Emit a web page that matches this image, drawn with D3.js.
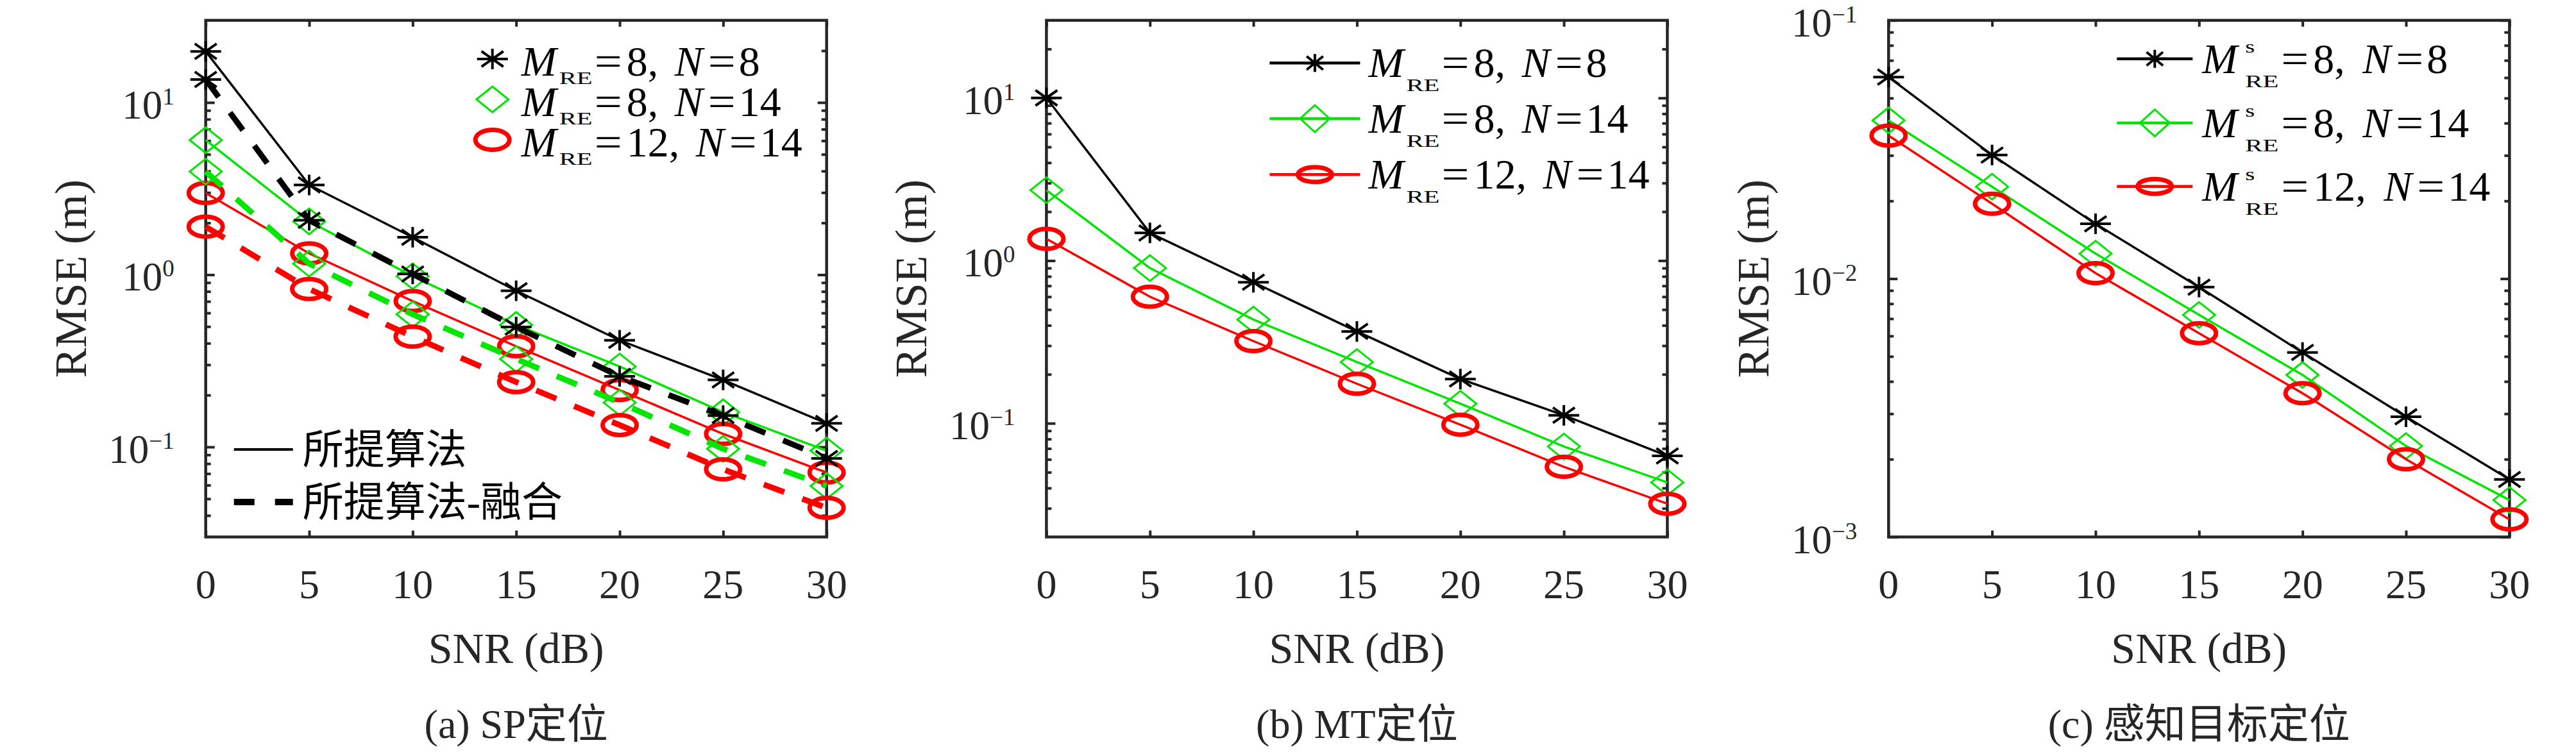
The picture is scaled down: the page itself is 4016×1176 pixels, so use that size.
<!DOCTYPE html>
<html>
<head>
<meta charset="utf-8">
<script src="https://cdn.jsdelivr.net/npm/d3@7"></script>
<style>
  html, body { margin: 0; padding: 0; background: #fff; }
  text { white-space: pre; }
</style>
</head>
<body>
<script>
// ── Data ───────────────────────────────────────────────────────
const snrDb = [0, 5, 10, 15, 20, 25, 30];

// (a) SP positioning: proposed / proposed-fusion
const spM8N8        = [19.8, 3.32, 1.65, 0.807, 0.416, 0.245, 0.137];
const spM8N8Fused   = [13.6, 2.07, 1.01, 0.497, 0.257, 0.152, 0.0857];
const spM8N14       = [6.05, 2.04, 0.98, 0.511, 0.293, 0.159, 0.0952];
const spM8N14Fused  = [3.97, 1.16, 0.589, 0.324, 0.181, 0.0975, 0.0593];
const spM12N14      = [2.98, 1.33, 0.703, 0.384, 0.214, 0.119, 0.071];
const spM12N14Fused = [1.90, 0.826, 0.437, 0.238, 0.134, 0.0741, 0.0443];

// (b) MT positioning
const mtM8N8   = [10, 1.48, 0.736, 0.367, 0.187, 0.112, 0.063];
const mtM8N14  = [2.71, 0.90, 0.434, 0.238, 0.132, 0.072, 0.0433];
const mtM12N14 = [1.36, 0.60, 0.32, 0.175, 0.098, 0.054, 0.032];

// (c) sensing target positioning
const stM8N8   = [0.0603, 0.0301, 0.0163, 0.00927, 0.00518, 0.00292, 0.00167];
const stM8N14  = [0.041, 0.0227, 0.0125, 0.00724, 0.00424, 0.00225, 0.00139];
const stM12N14 = [0.0358, 0.0195, 0.0105, 0.00615, 0.0036, 0.0020, 0.00117];

const xTickValues = [0, 5, 10, 15, 20, 25, 30];
const yDomainSP = [0.03, 30];
const yDomainMT = [0.02, 30];
const yDomainST = [0.001, 0.1];
const yExpSP = [-1, 0, 1];
const yExpMT = [-1, 0, 1];
const yExpST = [-3, -2, -1];

const legendMre = [8, 8, 12];
const legendN   = [8, 14, 14];
const styleLabels = ["所提算法", "所提算法-融合"];
const captions = ["(a) SP定位", "(b) MT定位", "(c) 感知目标定位"];
const xLabel = "SNR (dB)";
const yLabel = "RMSE (m)";

// ── Look ───────────────────────────────────────────────────────
const colors = { black: "#000000", green: "#00e600", red: "#ff0000", axis: "#262626" };
const serif = "'Liberation Serif', 'Times New Roman', serif";
const cjk = "'Liberation Serif', 'Noto Sans CJK SC', sans-serif";

const W = 4016, H = 1176;
const plotTop = 31.7, plotBottom = 837.5, plotW = 968;
const panelLefts = [320.7, 1631.4, 2944.3];

const svg = d3.select("body").append("svg")
  .attr("width", W).attr("height", H)
  .style("background", "#fff");

const markers = ["star", "diamond", "circle"];
const markerColors = [colors.black, colors.green, colors.red];

const panels = [
  {
    domain: yDomainSP, exps: yExpSP, sup: false,
    series: [
      { v: spM8N8, k: 0, dashed: false }, { v: spM8N14, k: 1, dashed: false }, { v: spM12N14, k: 2, dashed: false },
      { v: spM8N8Fused, k: 0, dashed: true }, { v: spM8N14Fused, k: 1, dashed: true }, { v: spM12N14Fused, k: 2, dashed: true },
    ],
  },
  {
    domain: yDomainMT, exps: yExpMT, sup: false,
    series: [{ v: mtM8N8, k: 0 }, { v: mtM8N14, k: 1 }, { v: mtM12N14, k: 2 }],
  },
  {
    domain: yDomainST, exps: yExpST, sup: true,
    series: [{ v: stM8N8, k: 0 }, { v: stM8N14, k: 1 }, { v: stM12N14, k: 2 }],
  },
];

// marker sizes: plot / small legend variant
const mSize = {
  plot:  { sw: 24, sh: 16, dw: 25, dh: 20, crx: 26.5, cry: 15.5 },
  small: { sw: 18, sh: 14, dw: 23, dh: 21, crx: 26.5, cry: 11.5 },
};

function drawMarker(g, type, cx, cy, color, size = mSize.plot) {
  if (type === "star") {
    const a = size.sw * 0.71, b = size.sh * 0.75;
    g.append("path")
      .attr("d", `M${cx - size.sw},${cy}H${cx + size.sw}M${cx},${cy - size.sh}V${cy + size.sh}` +
                 `M${cx - a},${cy - b}L${cx + a},${cy + b}M${cx - a},${cy + b}L${cx + a},${cy - b}`)
      .attr("fill", "none").attr("stroke", color).attr("stroke-width", 4);
  } else if (type === "diamond") {
    g.append("path")
      .attr("d", `M${cx - size.dw},${cy}L${cx},${cy - size.dh}L${cx + size.dw},${cy}L${cx},${cy + size.dh}Z`)
      .attr("fill", "none").attr("stroke", color).attr("stroke-width", 3);
  } else {
    g.append("ellipse")
      .attr("cx", cx).attr("cy", cy).attr("rx", size.crx).attr("ry", size.cry)
      .attr("fill", "none").attr("stroke", color).attr("stroke-width", 7);
  }
}

// one <text> per legend entry; pieces placed like the LaTeX original
function legendText(g, x0, yb, i, opt) {
  const m = String(legendMre[i]);
  const extra = (m.length - 1) * 33;
  const t = g.append("text")
    .style("font-family", serif).style("font-size", "66px").attr("fill", "#000");
  const piece = (x, y, str) => t.append("tspan").attr("x", x).attr("y", y).text(str);

  piece(x0, yb, "M").style("font-style", "italic");
  const sx = opt.sup ? x0 + 67 : x0 + 59;
  if (opt.sup) {
    piece(sx, yb - 32, "s").style("font-size", "28px")
      .attr("textLength", 15).attr("lengthAdjust", "spacingAndGlyphs");
  }
  piece(sx, yb + opt.subDy, "RE").style("font-size", "28px")
    .attr("textLength", 52).attr("lengthAdjust", "spacingAndGlyphs");
  const eq1 = opt.sup ? x0 + 123 : x0 + 114;
  piece(eq1, yb, "=").attr("textLength", 43).attr("lengthAdjust", "spacingAndGlyphs");
  piece(eq1 + 50, yb, m + ",");
  const nx = (opt.sup ? x0 + 250 : x0 + 239) + extra;
  piece(nx, yb, "N").style("font-style", "italic");
  piece(nx + 52, yb, "=").attr("textLength", 43).attr("lengthAdjust", "spacingAndGlyphs");
  piece(nx + 100, yb, String(legendN[i]));
}

panels.forEach((p, pi) => {
  const left = panelLefts[pi];
  const right = left + plotW;
  const g = svg.append("g");

  const x = d3.scaleLinear().domain([0, 30]).range([left, right]);
  const y = d3.scaleLog().domain(p.domain).range([plotBottom, plotTop]);

  const majors = p.exps.map(e => Math.pow(10, e));
  const minors = y.ticks().filter(v => {
    const l = Math.log10(v);
    return Math.abs(l - Math.round(l)) > 1e-6 && v > p.domain[0] * 1.0001 && v < p.domain[1] * 0.9999;
  });

  const styleAxis = sel => {
    sel.select(".domain").remove();
    sel.selectAll("line").attr("stroke", colors.axis).attr("stroke-width", 4);
    sel.selectAll("text").remove();
  };

  // ── Ticks (inward, mirrored) ─────────────────────────────────
  g.append("g").attr("transform", `translate(${left},0)`)
    .call(d3.axisLeft(y).tickValues(majors).tickSize(-14).tickSizeOuter(0)).call(styleAxis);
  g.append("g").attr("transform", `translate(${left},0)`)
    .call(d3.axisLeft(y).tickValues(minors).tickSize(-8).tickSizeOuter(0)).call(styleAxis);
  g.append("g").attr("transform", `translate(${right},0)`)
    .call(d3.axisRight(y).tickValues(majors).tickSize(-14).tickSizeOuter(0)).call(styleAxis);
  g.append("g").attr("transform", `translate(${right},0)`)
    .call(d3.axisRight(y).tickValues(minors).tickSize(-8).tickSizeOuter(0)).call(styleAxis);
  g.append("g").attr("transform", `translate(0,${plotBottom})`)
    .call(d3.axisBottom(x).tickValues(xTickValues).tickSize(-10).tickSizeOuter(0)).call(styleAxis);
  g.append("g").attr("transform", `translate(0,${plotTop})`)
    .call(d3.axisTop(x).tickValues(xTickValues).tickSize(-10).tickSizeOuter(0)).call(styleAxis);

  // box
  g.append("rect")
    .attr("x", left).attr("y", plotTop)
    .attr("width", plotW).attr("height", plotBottom - plotTop)
    .attr("fill", "none").attr("stroke", colors.axis).attr("stroke-width", 4.5);

  // ── Tick labels ──────────────────────────────────────────────
  xTickValues.forEach(v => {
    g.append("text")
      .attr("x", x(v)).attr("y", plotBottom + 95)
      .attr("text-anchor", "middle")
      .style("font-family", serif).style("font-size", "64px")
      .attr("fill", colors.axis).text(v);
  });

  p.exps.forEach(e => {
    const t = g.append("text")
      .attr("x", left - 49).attr("y", y(Math.pow(10, e)) + 25)
      .attr("text-anchor", "end")
      .style("font-family", serif).style("font-size", "63px")
      .attr("fill", colors.axis);
    t.append("tspan").text("10");
    t.append("tspan").attr("dy", -22).style("font-size", "37px")
      .text(e < 0 ? "\u2212" + (-e) : String(e));
  });

  // ── Axis labels and caption ─────────────────────────────────
  g.append("text")
    .attr("x", (left + right) / 2).attr("y", 1034)
    .attr("text-anchor", "middle")
    .style("font-family", serif).style("font-size", "68px")
    .attr("fill", "#262626").text(xLabel);

  g.append("text")
    .attr("transform", `translate(${left - 187},${(plotTop + plotBottom) / 2}) rotate(-90)`)
    .attr("text-anchor", "middle")
    .style("font-family", serif).style("font-size", "70px")
    .attr("fill", "#262626").text(yLabel);

  g.append("text")
    .attr("x", (left + right) / 2).attr("y", 1151)
    .attr("text-anchor", "middle")
    .style("font-family", cjk).style("font-size", "64px")
    .attr("fill", "#262626").text(captions[pi]);

  // ── Series ───────────────────────────────────────────────────
  const line = d3.line().x((d, i) => x(snrDb[i])).y(d => y(d));

  p.series.forEach(s => {
    g.append("path")
      .datum(s.v)
      .attr("d", line)
      .attr("fill", "none")
      .attr("stroke", markerColors[s.k])
      .attr("stroke-width", s.dashed ? 9 : 3.5)
      .attr("stroke-dasharray", s.dashed ? "34,30" : null);
    s.v.forEach((d, i) => drawMarker(g, markers[s.k], x(snrDb[i]), y(d), markerColors[s.k]));
  });

  // ── Legends ──────────────────────────────────────────────────
  if (pi === 0) {
    const rows = [92, 155, 218];
    rows.forEach((ry, i) => {
      drawMarker(g, markers[i], left + 447, ry, markerColors[i]);
      legendText(g, left + 492, ry + 26, i, { sup: false, subDy: 13 });
    });
    // line style legend
    [701, 783].forEach((ly, i) => {
      g.append("line")
        .attr("x1", left + 44).attr("x2", left + 136)
        .attr("y1", ly).attr("y2", ly)
        .attr("stroke", "#000")
        .attr("stroke-width", i ? 10 : 4)
        .attr("stroke-dasharray", i ? "32,32" : null);
      g.append("text")
        .attr("x", left + 151).attr("y", ly)
        .attr("dominant-baseline", "central")
        .style("font-family", cjk).style("font-size", "64px")
        .attr("fill", "#000").text(styleLabels[i]);
    });
  } else {
    const rows = pi === 1 ? [98.3, 185, 272.3] : [91.7, 191.7, 290.7];
    const lx0 = pi === 1 ? 348 : 356;
    const lx1 = pi === 1 ? 489 : 474;
    const tx = pi === 1 ? 502 : 489;
    rows.forEach((ry, i) => {
      g.append("line")
        .attr("x1", left + lx0).attr("x2", left + lx1)
        .attr("y1", ry).attr("y2", ry)
        .attr("stroke", markerColors[i]).attr("stroke-width", 4.5);
      drawMarker(g, markers[i], left + (lx0 + lx1) / 2, ry, markerColors[i], mSize.small);
      legendText(g, left + tx, ry + 22, i, { sup: p.sup, subDy: 22 });
    });
  }
});
</script>
</body>
</html>
